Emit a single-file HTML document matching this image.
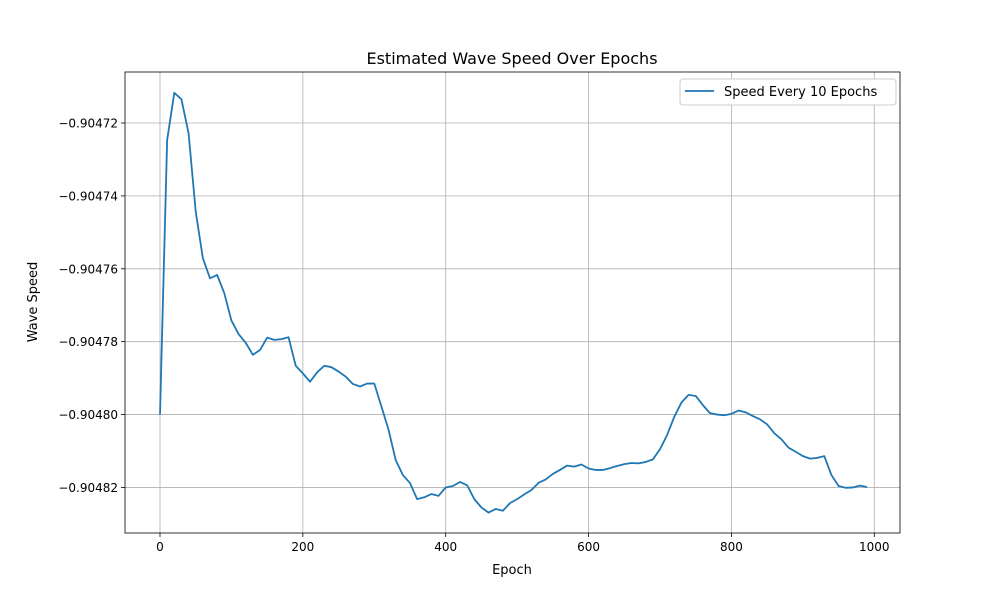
<!DOCTYPE html>
<html><head><meta charset="utf-8"><style>
body{margin:0;background:#fff;font-family:"Liberation Sans","DejaVu Sans",sans-serif}
</style></head><body>
<svg id="chart" width="1000" height="600" xmlns="http://www.w3.org/2000/svg" font-family="DejaVu Sans, Liberation Sans, sans-serif">
<rect width="1000" height="600" fill="#fff"/>
<g id="grid"></g>
<g id="ticks"></g>
<path id="line" fill="none" stroke="#1f77b4" stroke-width="1.8" stroke-linejoin="round"/>
<rect x="125" y="72" width="775" height="461" fill="none" stroke="#000" stroke-width="0.8"/>
<text x="512" y="64" text-anchor="middle" font-size="16">Estimated Wave Speed Over Epochs</text>
<text x="512" y="574" text-anchor="middle" font-size="13">Epoch</text>
<text transform="translate(37,302) rotate(-90)" text-anchor="middle" font-size="13">Wave Speed</text>
<g>
<rect x="680" y="79" width="216" height="26" rx="3" fill="#fff" stroke="#ccc"/>
<line x1="685" y1="91" x2="714" y2="91" stroke="#1f77b4" stroke-width="1.8"/>
<text x="724" y="96" font-size="13">Speed Every 10 Epochs</text>
</g>
</svg>
<script>
const epochs=[];for(let e=0;e<1000;e+=10)epochs.push(e);
const speeds=[-0.9048,-0.9047247,-0.9047117,-0.9047135,-0.9047228,-0.9047443,-0.9047571,-0.9047626,-0.9047617,-0.9047667,-0.9047742,-0.9047779,-0.9047803,-0.9047836,-0.9047823,-0.9047789,-0.9047795,-0.9047793,-0.9047788,-0.9047866,-0.9047887,-0.904791,-0.9047884,-0.9047866,-0.904787,-0.9047882,-0.9047896,-0.9047916,-0.9047923,-0.9047915,-0.9047915,-0.9047978,
-0.9048042,-0.9048125,-0.9048166,-0.9048188,-0.9048232,-0.9048227,-0.9048218,-0.9048223,-0.90482,-0.9048196,-0.9048185,-0.9048194,-0.9048232,-0.9048255,-0.9048269,-0.9048259,-0.9048264,-0.9048243,-0.9048232,-0.9048219,-0.9048207,-0.9048187,-0.9048178,-0.9048163,-0.9048152,-0.904814,-0.9048143,-0.9048137,-0.9048148,
-0.9048152,-0.9048152,-0.9048147,-0.9048141,-0.9048136,-0.9048133,-0.9048134,-0.904813,-0.9048123,-0.9048095,-0.9048056,-0.9048006,-0.9047967,-0.9047946,-0.9047949,-0.9047974,-0.9047996,-0.9048,-0.9048002,-0.9047998,-0.9047989,-0.9047994,-0.9048004,-0.9048013,-0.9048027,-0.9048051,-0.9048068,-0.9048091,-0.9048102,-0.9048114,-0.9048121,-0.9048119,-0.9048114,-0.9048166,-0.9048196,-0.9048201,-0.90482,-0.9048195,-0.9048199];
const xTicks=[0,200,400,600,800,1000];
const yTicks=[-0.90482,-0.9048,-0.90478,-0.90476,-0.90474,-0.90472];
const yTickLabels=["\u22120.90482","\u22120.90480","\u22120.90478","\u22120.90476","\u22120.90474","\u22120.90472"];
const X0=125,X1=900,Y0=72,Y1=533;
const xMin=-49,xMax=1036,yMin=-0.9048325,yMax=-0.904706;
const sx=v=>X0+(v-xMin)/(xMax-xMin)*(X1-X0);
const sy=v=>Y1-(v-yMin)/(yMax-yMin)*(Y1-Y0);
const NS="http://www.w3.org/2000/svg";
const grid=document.getElementById('grid'),ticks=document.getElementById('ticks');
function mk(tag,attrs,parent){const el=document.createElementNS(NS,tag);for(const k in attrs)el.setAttribute(k,attrs[k]);parent.appendChild(el);return el;}
xTicks.forEach(t=>{const x=sx(t);
const g=mk('line',{x1:x,x2:x,y1:Y0,y2:Y1,stroke:'#b0b0b0','stroke-width':0.8},grid);


mk('line',{x1:x,x2:x,y1:Y1,y2:Y1+4,stroke:'#000','stroke-width':0.8},ticks);
const tx=mk('text',{x:x,y:Y1+18,'text-anchor':'middle','font-size':12},ticks);tx.textContent=t;

});
yTicks.forEach((t,i)=>{const y=sy(t);
const g=mk('line',{x1:X0,x2:X1,y1:y,y2:y,stroke:'#b0b0b0','stroke-width':0.8},grid);


mk('line',{x1:X0-4,x2:X0,y1:y,y2:y,stroke:'#000','stroke-width':0.8},ticks);
const tx=mk('text',{x:X0-7,y:y+4.5,'text-anchor':'end','font-size':12},ticks);tx.textContent=yTickLabels[i];

});
document.getElementById('line').setAttribute('d',speeds.map((v,i)=>(i?'L':'M')+sx(epochs[i]).toFixed(2)+','+sy(v).toFixed(2)).join(''));
</script>
</body></html>
